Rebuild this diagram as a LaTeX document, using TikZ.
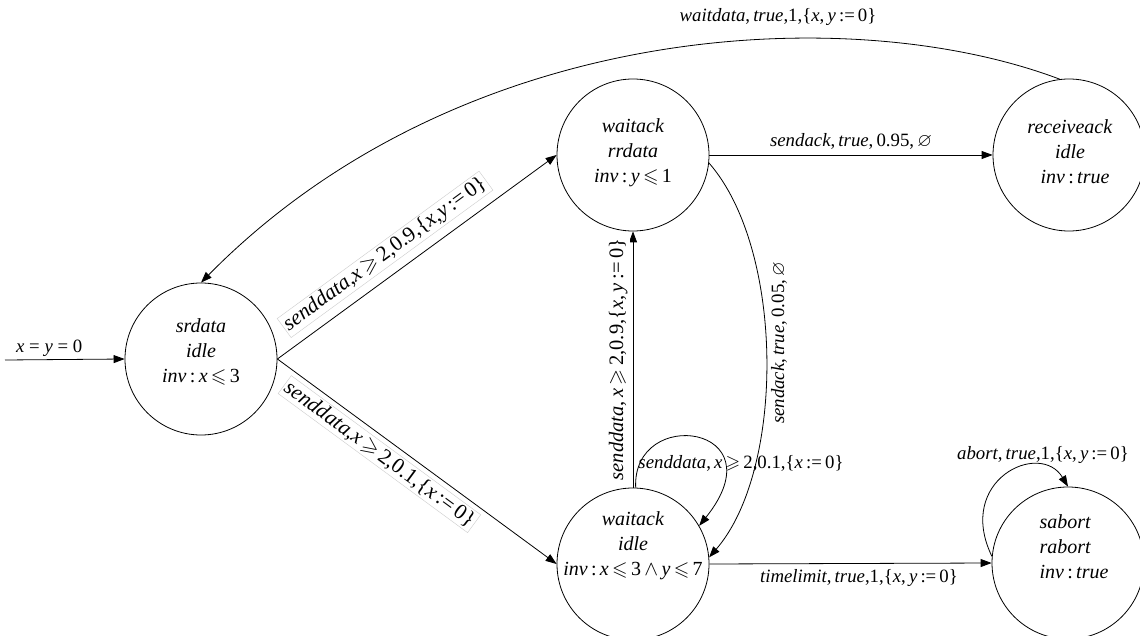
\documentclass[tikz,border=0pt]{standalone}
\usepackage{amssymb}
\usepackage{fontspec}
\setmainfont{Liberation Serif}
\usetikzlibrary{arrows.meta}

\newcommand{\vn}[1]{\textit{#1}}

\tikzset{
  state/.style={circle, draw, line width=0.8pt, minimum size=152pt, inner sep=0pt},
  statetext/.style={align=center, inner sep=0pt, font=\fontsize{20}{25}\selectfont},
  edge/.style={-{Triangle[length=11pt,width=8pt]}, line width=0.8pt},
  lab/.style={font=\fontsize{18.8}{22}\selectfont, inner sep=2pt},
  biglab/.style={font=\fontsize{21.5}{24}\selectfont, inner sep=2pt},
  framed/.style={biglab, draw=gray!40, line width=0.4pt, fill=white},
  plain/.style={lab, fill=white},
}

\begin{document}
\begin{tikzpicture}[x=1pt, y=-1pt]
\useasboundingbox[fill=white] (0,0) rectangle (1140,636);

% locations (circles) and their contents
\node[state] (sr) at (201,359) {};
\node[state] (rr) at (633,155) {};
\node[state] (ra) at (1069,155) {};
\node[state] (wi) at (633,564) {};
\node[state] (ab) at (1068,563) {};

\node[statetext] (sr-t) at (201,352) {\vn{srdata}\\\vn{idle}\\\vn{inv}\,:\,\vn{x}\,$\leqslant$\,3};
\node[statetext] (rr-t) at (633,153) {\vn{waitack}\\\vn{rrdata}\\\vn{inv}\,:\,\vn{y}\,$\leqslant$\,1};
\node[statetext] (ra-t) at (1070,152) {\vn{receiveack}\\\vn{idle}\\\hspace{10pt}\vn{inv}\,:\,\vn{true}};
\node[statetext] (wi-t) at (633,546) {\vn{waitack}\\\vn{idle}\\\vn{inv}\,:\,\vn{x}\,$\leqslant$\,3\,$\wedge$\,\vn{y}\,$\leqslant$\,7};
\node[statetext, align=left] (ab-t) at (1074,547) {\vn{sabort}\\\vn{rabort}\\\vn{inv}\,:\,\vn{true}};

% initial edge
\coordinate (init) at (5,360);
\draw[edge] (init) -- (sr.west)
  node[lab, pos=0.37, above=1pt] {\vn{x} = \vn{y} = 0};

% transitions
\draw[edge] (sr.east) -- (rr.west)
  node[framed, pos=0.43, sloped, above=9pt]
  {\vn{senddata},\vn{x}\,$\geqslant$\,2,0.9,\{\vn{x},\vn{y}\,:=\,0\}};

\draw[edge] (sr.east) -- (wi.west)
  node[framed, pos=0.40, sloped, below=5pt]
  {\vn{senddata},\vn{x}\,$\geqslant$\,2,0.1,\{\vn{x}\,:=\,0\}};

\draw[edge] (wi.north) -- (rr.south)
  node[plain, midway, sloped, above=3pt, font=\fontsize{20.5}{24}\selectfont]
  {\vn{senddata},\,\vn{x}\,$\geqslant$\,2,0.9,\{\vn{x},\,\vn{y}\,:=\,0\}};

\draw[edge] (rr.-6) .. controls (785,250) and (785,470) .. (wi.5);
\node[plain, rotate=90] (lsa) at (779,343) {\vn{sendack},\,\vn{true},\,0.05,\,$\varnothing$};

\draw[edge] (wi.88) .. controls (632,405) and (780,425) .. (wi.30);
\node[lab] (lloop) at (741,463) {\vn{senddata},\,\vn{x}\,$\geqslant$\,2,0.1,\{\vn{x}\,:=\,0\}};

\draw[edge] (rr.east) -- (ra.west)
  node[lab, midway, above=3pt] {\vn{sendack},\,\vn{true},\,0.95,\,$\varnothing$};

\draw[edge] (ra.97) .. controls (850,0) and (460,20) .. (sr.north);
\node[lab] (lwd) at (778,17) {\vn{waitdata},\,\vn{true},1,\{\vn{x},\,\vn{y}\,:=\,0\}};

\draw[edge] (wi.east) -- (ab.west)
  node[lab, pos=0.53, below=4pt] {\vn{timelimit},\,\vn{true},1,\{\vn{x},\,\vn{y}\,:=\,0\}};

\draw[edge] (ab.175) .. controls (955,480) and (1040,440) .. (ab.north);
\node[lab] (lab1) at (1043,455) {\vn{abort},\,\vn{true},1,\{\vn{x},\,\vn{y}\,:=\,0\}};
\end{tikzpicture}
\end{document}
